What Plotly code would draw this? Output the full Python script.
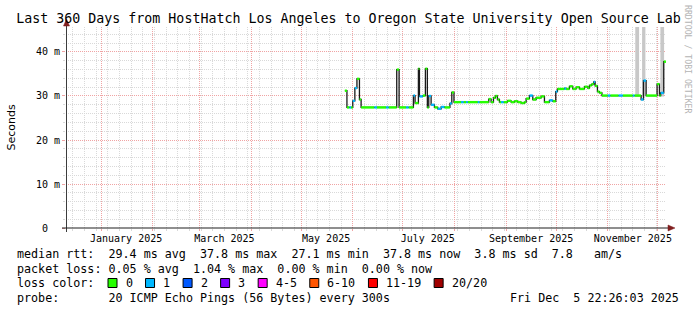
import plotly.graph_objects as go

# ---------------- data ----------------
sample_time = [
    "2025-05-27 06:00", "2025-05-28 12:00", "2025-05-30 00:00", "2025-05-31 00:00",
    "2025-06-01 00:00", "2025-06-02 06:00", "2025-06-03 12:00", "2025-06-05 00:00",
    "2025-06-06 00:00", "2025-06-14 00:00", "2025-06-15 12:00", "2025-06-21 00:00",
    "2025-06-22 12:00", "2025-06-27 09:00", "2025-06-28 19:00", "2025-07-03 00:00",
    "2025-07-04 12:00", "2025-07-07 09:00", "2025-07-08 09:00", "2025-07-10 09:00",
    "2025-07-11 00:00", "2025-07-13 00:00", "2025-07-14 14:00", "2025-07-15 18:00",
    "2025-07-16 14:00", "2025-07-18 00:00", "2025-07-20 00:00", "2025-07-22 00:00",
    "2025-07-24 00:00", "2025-07-26 00:00", "2025-07-29 07:00", "2025-07-30 10:00",
    "2025-07-31 17:00", "2025-08-05 00:00", "2025-08-06 12:00", "2025-08-08 00:00",
    "2025-08-09 00:00", "2025-08-15 00:00", "2025-08-16 00:00", "2025-08-21 14:00",
    "2025-08-23 00:00", "2025-08-24 10:00", "2025-08-25 14:00", "2025-08-26 19:00",
    "2025-08-28 00:00", "2025-08-29 00:00", "2025-08-30 12:00", "2025-09-01 19:00",
    "2025-09-04 00:00", "2025-09-06 00:00", "2025-09-08 00:00", "2025-09-10 00:00",
    "2025-09-12 00:00", "2025-09-13 00:00", "2025-09-15 00:00", "2025-09-17 00:00",
    "2025-09-19 00:00", "2025-09-22 00:00", "2025-09-24 00:00", "2025-09-27 00:00",
    "2025-09-29 00:00", "2025-09-30 19:00", "2025-10-01 19:00", "2025-10-06 00:00",
    "2025-10-07 00:00", "2025-10-09 00:00", "2025-10-11 00:00", "2025-10-13 00:00",
    "2025-10-15 00:00", "2025-10-18 00:00", "2025-10-20 00:00", "2025-10-21 00:00",
    "2025-10-22 10:00", "2025-10-23 14:00", "2025-10-24 10:00", "2025-10-25 19:00",
    "2025-10-27 00:00", "2025-10-28 12:00", "2025-11-01 00:00", "2025-11-02 12:00",
    "2025-11-07 12:00", "2025-11-10 00:00", "2025-11-16 00:00", "2025-11-17 00:00",
    "2025-11-21 00:00", "2025-11-22 10:00", "2025-11-24 00:00", "2025-11-30 14:00",
    "2025-12-02 00:00", "2025-12-02 18:00", "2025-12-04 14:00",
]
median_rtt = [
    31.2, 27.4, 27.4, 27.4,
    28.9, 31.8, 33.9, 29.2,
    27.4, 27.4, 27.4, 27.4,
    27.4, 36.0, 27.4, 27.4,
    27.4, 30.1, 28.4, 36.2,
    29.9, 30.1, 36.2, 27.4,
    30.0, 28.0, 27.4, 27.1,
    27.5, 27.4, 28.3, 30.8,
    28.6, 28.6, 28.6, 28.6,
    28.6, 28.6, 28.6, 29.3,
    28.6, 29.6, 30.0, 29.2,
    28.6, 28.6, 28.6, 28.9,
    28.6, 28.8, 28.6, 28.4,
    28.6, 29.4, 30.1, 29.2,
    29.6, 29.9, 28.6, 29.0,
    28.8, 31.0, 31.6, 31.7,
    31.6, 32.2, 31.6, 32.0,
    31.6, 32.1, 31.8, 32.4,
    32.7, 33.2, 32.3, 31.0,
    30.7, 30.1, 30.1, 30.1,
    30.1, 30.1, 30.1, 30.1,
    29.2, 33.5, 30.1, 32.7,
    30.1, 30.7, 37.8,
]
loss_idx = [
    0, 0, 1, 0,
    1, 1, 0, 0,
    0, 1, 0, 1,
    0, 0, 0, 1,
    0, 1, 0, 0,
    1, 0, 0, 0,
    1, 1, 0, 1,
    1, 0, 1, 0,
    0, 1, 0, 1,
    0, 1, 0, 0,
    0, 0, 0, 0,
    0, 1, 0, 0,
    0, 0, 0, 0,
    0, 0, 1, 0,
    0, 0, 0, 1,
    0, 1, 0, 1,
    0, 0, 0, 0,
    0, 0, 0, 0,
    0, 1, 0, 0,
    0, 0, 1, 0,
    1, 0, 1, 0,
    1, 1, 0, 0,
    0, 1, 0,
]
last_time = "2025-12-05 22:26:03"
range_start = "2024-12-10 22:26:03"

# smoke (spread of the 20 pings) where it is visible
smoke_start = ["2025-11-17 12:00", "2025-11-21 14:00", "2025-12-02 14:00"]
smoke_end = ["2025-11-19 19:00", "2025-11-23 14:00", "2025-12-04 19:00"]
smoke_low = [29.9, 29.9, 29.9]
smoke_high = [60.0, 60.0, 60.0]

loss_labels = ["0", "1", "2", "3", "4-5", "6-10", "11-19", "20/20"]
loss_colors = ["#26ff00", "#00b8ff", "#0059ff", "#7e00ff", "#ff00ff", "#ff5500", "#ff0000", "#a00000"]

month_label_dates = ["2025-01-16", "2025-03-16", "2025-05-16", "2025-07-16", "2025-09-16", "2025-11-16"]
month_label_text = ["January 2025", "March 2025", "May 2025", "July 2025", "September 2025", "November 2025"]

ytick_vals = [0, 10, 20, 30, 40]
ytick_text = ["0\u00a0\u00a0", "10 m", "20 m", "30 m", "40 m"]
y_max = 45.68

title_text = "Last 360 Days from HostHatch Los Angeles to Oregon State University Open Source Lab"
legend_rows = [
    "median rtt:  29.4 ms avg  37.8 ms max  27.1 ms min  37.8 ms now  3.8 ms sd  7.8   am/s",
    "packet loss: 0.05 % avg  1.04 % max  0.00 % min  0.00 % now",
    "loss color:",
    "probe:       20 ICMP Echo Pings (56 Bytes) every 300s",
]
stamp_text = "Fri Dec  5 22:26:03 2025"

# ---------------- layout geometry ----------------
W, H = 697, 310
L, T, PW, PH = 66, 27, 600, 201
MONO = "DejaVu Sans Mono"


def pxx(x):
    return (x - L) / PW


def pxy(y):
    return (T + PH - y) / PH


def nb(s):
    return s.replace(" ", "\u00a0")


fig = go.Figure()

# smoke
sx, sy = [], []
for a, b, lo, hi in zip(smoke_start, smoke_end, smoke_low, smoke_high):
    sx += [a, a, b, b, a, None]
    sy += [lo, hi, hi, lo, lo, None]
fig.add_trace(go.Scatter(x=sx, y=sy, mode="lines", fill="toself", fillcolor="#c8c8c8",
                         line=dict(width=0), hoverinfo="skip"))

# dark step line (transitions)
fig.add_trace(go.Scatter(x=sample_time + [last_time], y=median_rtt + [median_rtt[-1]],
                         mode="lines", line=dict(color="#1a1a1a", width=1.3, shape="hv"),
                         hoverinfo="skip"))

# coloured median segments by packet loss
ends = sample_time[1:] + [last_time]
for ci, col in enumerate(loss_colors):
    xs, ys = [], []
    for t0, t1, v, c in zip(sample_time, ends, median_rtt, loss_idx):
        if c == ci:
            xs += [t0, t1, None]
            ys += [v, v, None]
    if xs:
        fig.add_trace(go.Scatter(x=xs, y=ys, mode="lines", line=dict(color=col, width=2.4),
                                 name=loss_labels[ci], hoverinfo="skip"))

# helper trace for the label axis
fig.add_trace(go.Scatter(x=month_label_dates, y=[0] * len(month_label_dates), xaxis="x2",
                         mode="markers", marker=dict(opacity=0), hoverinfo="skip"))

grid_minor = "#d9d9d9"
grid_major = "#f0a4a4"

fig.update_layout(
    width=W, height=H,
    margin=dict(l=L, r=W - L - PW, t=T, b=H - T - PH, pad=0),
    paper_bgcolor="white", plot_bgcolor="white",
    showlegend=False,
    font=dict(family=MONO, color="black", size=10),
    title=dict(text=title_text, x=0.5, xref="container", xanchor="center",
               y=1 - 18 / H, yref="container", yanchor="middle",
               font=dict(family=MONO, size=13.3, color="black")),
    xaxis=dict(
        type="date", range=[range_start, last_time],
        showgrid=True, gridcolor=grid_major, griddash="1px,1px", gridwidth=1,
        dtick="M1", tick0="2025-01-01",
        ticks="outside", ticklen=2, tickcolor=grid_major,
        showticklabels=False, zeroline=False, showline=False,
        minor=dict(dtick=7 * 86400000, tick0="2024-12-15", showgrid=True,
                   gridcolor=grid_minor, griddash="1px,1px", ticks="outside",
                   ticklen=2, tickcolor=grid_minor),
    ),
    xaxis2=dict(
        type="date", range=[range_start, last_time], overlaying="x", anchor="y", side="bottom",
        tickmode="array", tickvals=month_label_dates, ticktext=month_label_text,
        showgrid=False, ticks="", zeroline=False, showline=False,
        tickfont=dict(family=MONO, size=10, color="black"), ticklabelstandoff=3,
    ),
    yaxis=dict(
        range=[0, y_max], tickmode="array", tickvals=ytick_vals, ticktext=ytick_text,
        showgrid=True, gridcolor=grid_major, griddash="1px,1px",
        ticks="outside", ticklen=3, tickcolor=grid_major,
        zeroline=False, showline=False,
        tickfont=dict(family=MONO, size=10, color="black"),
        minor=dict(dtick=2, showgrid=True, gridcolor=grid_minor, griddash="1px,1px",
                   ticks="outside", ticklen=2, tickcolor=grid_minor),
    ),
)

shapes = []
# y axis line with arrow
shapes.append(dict(type="line", xref="paper", yref="paper", x0=pxx(66.5), x1=pxx(66.5),
                   y0=pxy(232), y1=pxy(22), line=dict(color="#3c3c3c", width=1)))
shapes.append(dict(type="path", xref="paper", yref="paper",
                   path="M {} {} L {} {} L {} {} Z".format(pxx(63.5), pxy(26), pxx(69.5), pxy(26),
                                                           pxx(66.5), pxy(19)),
                   fillcolor="#801f1f", line=dict(color="#801f1f", width=0.5)))
# x axis line with arrow
shapes.append(dict(type="line", xref="paper", yref="paper", x0=pxx(62), x1=pxx(670),
                   y0=pxy(228), y1=pxy(228), line=dict(color="#1f1f1f", width=1)))
shapes.append(dict(type="path", xref="paper", yref="paper",
                   path="M {} {} L {} {} L {} {} Z".format(pxx(668), pxy(225), pxx(668), pxy(231),
                                                           pxx(675), pxy(228)),
                   fillcolor="#801f1f", line=dict(color="#801f1f", width=0.5)))

annotations = []
row_y = [254, 268.5, 283, 297.5]
for txt, yy in zip(legend_rows, row_y):
    annotations.append(dict(text=nb(txt), xref="paper", yref="paper", x=pxx(15), y=pxy(yy),
                            xanchor="left", yanchor="middle", showarrow=False,
                            font=dict(family=MONO, size=11.7, color="black")))
annotations.append(dict(text=nb(stamp_text), xref="paper", yref="paper", x=pxx(681), y=pxy(row_y[3]),
                        xanchor="right", yanchor="middle", showarrow=False,
                        font=dict(family=MONO, size=11.7, color="black")))

# loss colour swatches
cw = 7.04
xcur = 108
for lab, col in zip(loss_labels, loss_colors):
    shapes.append(dict(type="rect", xref="paper", yref="paper",
                       x0=pxx(xcur), x1=pxx(xcur + 9), y0=pxy(row_y[2] + 4.5), y1=pxy(row_y[2] - 4.5),
                       fillcolor=col, line=dict(color="black", width=1)))
    annotations.append(dict(text=lab, xref="paper", yref="paper", x=pxx(xcur + 15.5), y=pxy(row_y[2]),
                            xanchor="left", yanchor="middle", showarrow=False,
                            font=dict(family=MONO, size=11.7, color="black")))
    xcur += 16 + len(lab) * cw + 14.5

# y axis title
annotations.append(dict(text="Seconds", xref="paper", yref="paper", x=pxx(11), y=pxy(127.5),
                        xanchor="center", yanchor="middle", textangle=-90, showarrow=False,
                        font=dict(family="DejaVu Sans", size=11, color="black")))
# rrdtool watermark
annotations.append(dict(text="RRDTOOL / TOBI OETIKER", xref="paper", yref="paper", x=pxx(688),
                        y=pxy(59), xanchor="center", yanchor="middle", textangle=90, showarrow=False,
                        font=dict(family=MONO, size=8.2, color="#b4b4b4")))

fig.update_layout(shapes=shapes, annotations=annotations)

fig.write_html("out.html")
